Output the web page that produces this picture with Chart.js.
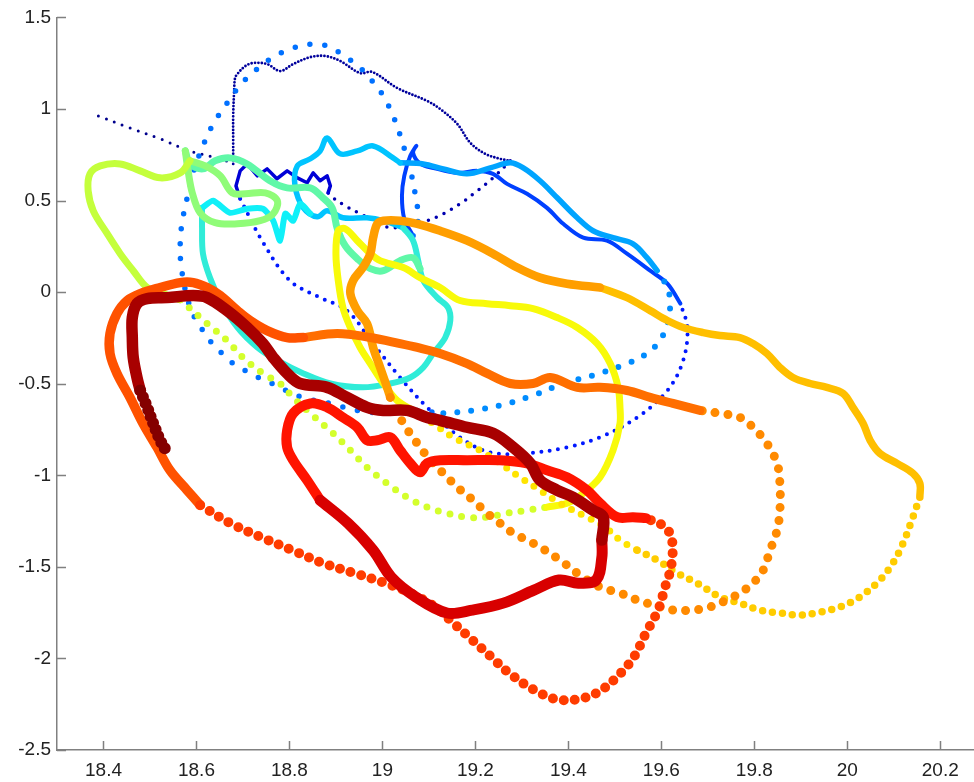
<!DOCTYPE html>
<html>
<head>
<meta charset="utf-8">
<script src="https://cdn.jsdelivr.net/npm/chart.js@4.4.1/dist/chart.umd.min.js"></script>
<style>
  html, body { margin: 0; background: #fff; }
  #wrap { width: 974px; height: 782px; }
</style>
</head>
<body>
<div id="wrap"><canvas id="loops" width="974" height="782"></canvas></div>
<script>
// axis ticks
const xTicks = [18.4, 18.6, 18.8, 19, 19.2, 19.4, 19.6, 19.8, 20, 20.2];
const xTickLabels = ['18.4', '18.6', '18.8', '19', '19.2', '19.4', '19.6', '19.8', '20', '20.2'];
const yTicks = [-2.5, -2, -1.5, -1, -0.5, 0, 0.5, 1, 1.5];
const yTickLabels = ['-2.5', '-2', '-1.5', '-1', '-0.5', '0', '0.5', '1', '1.5'];

// trajectory, in time order as [x, y]
const navyLead = [[18.389,0.962],[18.457,0.896],[18.522,0.837],[18.586,0.771],[18.651,0.728],[18.679,0.700]];
const navyTop = [[18.679,0.700],[18.679,0.826],[18.679,0.962],[18.681,1.098],[18.683,1.169],[18.688,1.191],[18.705,1.234],[18.722,1.251],[18.752,1.245],[18.780,1.207],[18.808,1.245],[18.845,1.283],[18.877,1.289],[18.909,1.262],[18.952,1.196],[18.978,1.202],[19.032,1.114],[19.096,1.044],[19.124,1.000],[19.161,0.918],[19.189,0.815],[19.221,0.755],[19.253,0.728],[19.275,0.717]];
const navyReturn = [[19.275,0.717],[19.238,0.624],[19.204,0.553],[19.167,0.482],[19.131,0.428],[19.096,0.390],[19.060,0.368],[19.017,0.351],[18.984,0.390],[18.952,0.428],[18.920,0.471],[18.894,0.515],[18.883,0.542]];
const blueScribble = [[18.883,0.542],[18.888,0.580],[18.881,0.635],[18.866,0.608],[18.851,0.651],[18.838,0.597],[18.817,0.624],[18.795,0.662],[18.773,0.619],[18.752,0.673],[18.731,0.635],[18.709,0.700],[18.694,0.662],[18.685,0.580],[18.694,0.510]];
const blueDots = [[18.694,0.510],[18.741,0.281],[18.801,0.063],[18.866,-0.030],[18.924,-0.101],[18.980,-0.281],[19.038,-0.466],[19.096,-0.629],[19.167,-0.793],[19.232,-0.875],[19.311,-0.880],[19.397,-0.847],[19.468,-0.793],[19.548,-0.684],[19.613,-0.537],[19.647,-0.373],[19.656,-0.193],[19.641,-0.063]];
const blueLine = [[19.641,-0.063],[19.613,0.046],[19.576,0.117],[19.526,0.210],[19.483,0.281],[19.432,0.297],[19.389,0.373],[19.354,0.460],[19.311,0.537],[19.268,0.591],[19.238,0.646],[19.204,0.662],[19.161,0.651],[19.110,0.678],[19.082,0.700],[19.066,0.760],[19.073,0.798],[19.060,0.744],[19.047,0.635],[19.042,0.526],[19.047,0.401],[19.066,0.308]];
const dodgerDots = [[19.066,0.308],[19.077,0.401],[19.070,0.542],[19.064,0.624],[19.042,0.826],[19.023,0.962],[19.002,1.071],[18.978,1.153],[18.948,1.234],[18.915,1.294],[18.883,1.343],[18.845,1.354],[18.806,1.332],[18.769,1.289],[18.733,1.223],[18.698,1.142],[18.666,1.033],[18.636,0.918],[18.612,0.787],[18.593,0.651],[18.580,0.515],[18.569,0.379],[18.565,0.264],[18.567,0.144],[18.580,-0.030],[18.597,-0.144],[18.614,-0.210],[18.634,-0.281],[18.655,-0.335],[18.679,-0.390],[18.705,-0.428],[18.733,-0.466],[18.763,-0.499],[18.827,-0.575],[18.888,-0.608],[18.946,-0.646],[19.010,-0.662],[19.066,-0.646],[19.131,-0.662]];
const skyDots = [[19.131,-0.662],[19.195,-0.646],[19.253,-0.619],[19.324,-0.564],[19.389,-0.499],[19.453,-0.455],[19.526,-0.390],[19.569,-0.335],[19.597,-0.264],[19.613,-0.172],[19.619,-0.063],[19.613,0.025],[19.591,0.117]];
const skyLine = [[19.591,0.117],[19.569,0.188],[19.539,0.264],[19.496,0.297],[19.453,0.335],[19.419,0.406],[19.376,0.515],[19.339,0.608],[19.303,0.678],[19.275,0.706],[19.232,0.678],[19.182,0.646],[19.131,0.673],[19.088,0.700],[19.038,0.706]];
const cyanTop = [[19.038,0.706],[19.023,0.733],[18.980,0.798],[18.946,0.771],[18.909,0.755],[18.881,0.842],[18.866,0.771],[18.845,0.728],[18.817,0.689],[18.812,0.580],[18.830,0.460],[18.860,0.411],[18.881,0.444],[18.915,0.406],[18.967,0.406],[19.002,0.390],[19.045,0.351]];
const turquoiseLoop = [[19.045,0.351],[19.066,0.281],[19.077,0.172],[19.088,0.063],[19.118,-0.030],[19.141,-0.084],[19.146,-0.155],[19.135,-0.248],[19.109,-0.335],[19.088,-0.411],[19.060,-0.466],[19.017,-0.499],[18.958,-0.520],[18.888,-0.499],[18.830,-0.444],[18.774,-0.373],[18.731,-0.302],[18.688,-0.193],[18.651,-0.046],[18.629,0.079],[18.614,0.210],[18.612,0.351],[18.612,0.460]];
const cyanZigzag = [[18.612,0.460],[18.636,0.499],[18.672,0.433],[18.709,0.455],[18.743,0.455],[18.765,0.390],[18.780,0.281],[18.791,0.428],[18.808,0.390],[18.823,0.482],[18.845,0.428]];
const aquaLine = [[19.081,0.128],[19.066,0.188],[19.038,0.172],[19.002,0.117],[18.974,0.128],[18.946,0.182],[18.920,0.253],[18.903,0.346],[18.892,0.460],[18.872,0.515],[18.845,0.569],[18.795,0.569],[18.758,0.608],[18.709,0.700],[18.672,0.733],[18.640,0.717],[18.614,0.673],[18.586,0.700],[18.576,0.771]];
const greenLoop = [[18.576,0.771],[18.582,0.662],[18.591,0.542],[18.608,0.433],[18.640,0.379],[18.688,0.373],[18.737,0.390],[18.765,0.428],[18.774,0.499],[18.748,0.542],[18.705,0.537],[18.677,0.542],[18.651,0.635],[18.619,0.689],[18.586,0.717]];
const limeLoop = [[18.586,0.717],[18.565,0.651],[18.522,0.624],[18.479,0.662],[18.436,0.700],[18.393,0.689],[18.371,0.646],[18.367,0.553],[18.378,0.444],[18.408,0.319],[18.436,0.210],[18.464,0.117],[18.494,0.025],[18.528,-0.008],[18.565,-0.041]];
const limeDots = [[18.565,-0.041],[18.623,-0.172],[18.666,-0.264],[18.700,-0.357],[18.743,-0.444],[18.780,-0.499],[18.808,-0.575],[18.845,-0.662],[18.894,-0.771],[18.931,-0.864],[18.967,-0.957],[19.010,-1.044],[19.053,-1.120],[19.096,-1.174],[19.139,-1.207],[19.182,-1.229],[19.225,-1.229],[19.268,-1.207],[19.311,-1.191],[19.354,-1.174]];
const yellowLoop = [[19.354,-1.174],[19.397,-1.153],[19.432,-1.098],[19.468,-1.011],[19.496,-0.864],[19.511,-0.717],[19.511,-0.629],[19.507,-0.520],[19.490,-0.390],[19.462,-0.281],[19.419,-0.193],[19.376,-0.139],[19.324,-0.090],[19.275,-0.074],[19.225,-0.063],[19.167,-0.046],[19.124,0.025],[19.081,0.079],[19.045,0.134],[18.995,0.172],[18.974,0.210],[18.946,0.281],[18.920,0.346],[18.905,0.335],[18.900,0.210],[18.905,0.063],[18.915,-0.084],[18.931,-0.193],[18.952,-0.302],[18.974,-0.390],[19.002,-0.499],[19.032,-0.592],[19.066,-0.646]];
const yellowDots = [[19.066,-0.646],[19.109,-0.717],[19.152,-0.793],[19.210,-0.864],[19.253,-0.935],[19.296,-1.011],[19.339,-1.082],[19.382,-1.153],[19.440,-1.229],[19.479,-1.283],[19.511,-1.354],[19.548,-1.409]];
const goldDots = [[19.548,-1.409],[19.591,-1.463],[19.634,-1.534],[19.677,-1.589],[19.726,-1.665],[19.769,-1.698],[19.812,-1.736],[19.855,-1.752],[19.898,-1.763],[19.941,-1.747],[19.984,-1.719],[20.027,-1.665],[20.070,-1.572],[20.098,-1.480],[20.120,-1.371],[20.141,-1.229],[20.156,-1.120]];
const goldLine = [[20.156,-1.120],[20.156,-1.044],[20.141,-0.989],[20.107,-0.935],[20.070,-0.880],[20.049,-0.809],[20.034,-0.717],[20.012,-0.629],[19.991,-0.553],[19.956,-0.520],[19.920,-0.499],[19.883,-0.466],[19.855,-0.411],[19.827,-0.335],[19.797,-0.281],[19.769,-0.248],[19.726,-0.237],[19.690,-0.221],[19.647,-0.193],[19.613,-0.155],[19.576,-0.101],[19.526,-0.030],[19.468,0.025]];
const orangeLine = [[19.468,0.025],[19.397,0.046],[19.339,0.079],[19.290,0.134],[19.238,0.210],[19.182,0.281],[19.124,0.335],[19.075,0.373],[19.038,0.390],[19.002,0.390],[18.989,0.373],[18.980,0.297],[18.974,0.210],[18.958,0.134],[18.937,0.063],[18.931,-0.008],[18.946,-0.101],[18.967,-0.172],[18.980,-0.302],[18.995,-0.411],[19.010,-0.520],[19.017,-0.575]];
const orangeDots = [[19.017,-0.575],[19.045,-0.717],[19.075,-0.826],[19.103,-0.918],[19.131,-0.989],[19.161,-1.065],[19.195,-1.136],[19.225,-1.207],[19.253,-1.262],[19.281,-1.316],[19.311,-1.354],[19.339,-1.392],[19.382,-1.463],[19.425,-1.545],[19.468,-1.610],[19.511,-1.643],[19.548,-1.681],[19.582,-1.708],[19.625,-1.736],[19.668,-1.736],[19.705,-1.719],[19.741,-1.681],[19.769,-1.643],[19.797,-1.589],[19.819,-1.518],[19.834,-1.409],[19.849,-1.300],[19.855,-1.191],[19.855,-1.044],[19.849,-0.935],[19.827,-0.826],[19.797,-0.738],[19.769,-0.684],[19.726,-0.662],[19.683,-0.646]];
const emberLine = [[19.683,-0.646],[19.625,-0.608],[19.576,-0.575],[19.526,-0.537],[19.468,-0.520],[19.419,-0.520],[19.361,-0.466],[19.324,-0.499],[19.275,-0.499],[19.225,-0.444],[19.182,-0.390],[19.124,-0.335],[19.075,-0.302],[19.038,-0.281],[18.974,-0.248],[18.903,-0.226],[18.830,-0.248]];
const emberCurl = [[18.830,-0.248],[18.795,-0.248],[18.752,-0.210],[18.715,-0.155],[18.688,-0.101],[18.651,-0.019],[18.623,0.025],[18.593,0.052],[18.565,0.052],[18.522,0.025],[18.479,-0.008],[18.451,-0.046],[18.429,-0.117],[18.414,-0.226],[18.414,-0.335],[18.429,-0.444],[18.457,-0.575],[18.485,-0.717],[18.515,-0.847],[18.543,-0.973],[18.580,-1.082],[18.608,-1.163]];
const emberDots = [[18.608,-1.163],[18.673,-1.262],[18.739,-1.338],[18.806,-1.409],[18.872,-1.480],[18.939,-1.534],[19.006,-1.589],[19.060,-1.643],[19.113,-1.719],[19.152,-1.806],[19.193,-1.899],[19.234,-1.992],[19.272,-2.079],[19.326,-2.172],[19.380,-2.226],[19.434,-2.215],[19.472,-2.172],[19.513,-2.079],[19.541,-1.992],[19.567,-1.861],[19.593,-1.736],[19.608,-1.610],[19.621,-1.501],[19.623,-1.354],[19.608,-1.283],[19.567,-1.234]];
const redLine = [[19.567,-1.234],[19.539,-1.229],[19.505,-1.229],[19.468,-1.153],[19.440,-1.082],[19.397,-1.011],[19.354,-0.973],[19.311,-0.935],[19.253,-0.918],[19.182,-0.918],[19.124,-0.918],[19.096,-0.935],[19.081,-0.984],[19.060,-0.935],[19.038,-0.864],[19.017,-0.793],[18.989,-0.809],[18.967,-0.809],[18.946,-0.738],[18.915,-0.684],[18.881,-0.629],[18.845,-0.608],[18.808,-0.662],[18.795,-0.755],[18.795,-0.847],[18.808,-0.918],[18.838,-1.027],[18.866,-1.136]];
const crimsonLine = [[18.866,-1.136],[18.926,-1.262],[18.980,-1.409],[19.019,-1.556],[19.072,-1.665],[19.139,-1.752],[19.193,-1.736],[19.260,-1.698],[19.326,-1.627],[19.380,-1.572],[19.421,-1.589],[19.460,-1.572],[19.472,-1.447],[19.472,-1.354]];
const darkRedLine = [[19.472,-1.354],[19.475,-1.229],[19.453,-1.191],[19.410,-1.120],[19.376,-1.082],[19.339,-1.027],[19.318,-0.935],[19.281,-0.847],[19.238,-0.771],[19.182,-0.738],[19.124,-0.700],[19.096,-0.684],[19.053,-0.646],[19.002,-0.646],[18.967,-0.629],[18.924,-0.575],[18.881,-0.520],[18.823,-0.499],[18.795,-0.444],[18.765,-0.357],[18.743,-0.281],[18.709,-0.193],[18.666,-0.101],[18.623,-0.030],[18.593,-0.019],[18.537,-0.030],[18.494,-0.035],[18.472,-0.063],[18.462,-0.139],[18.462,-0.248],[18.464,-0.357],[18.472,-0.466],[18.479,-0.537]];
const maroonDots = [[18.479,-0.537],[18.494,-0.629],[18.507,-0.717],[18.522,-0.809],[18.537,-0.875]];

// how each piece is drawn: gap = spacing of round dots along the path
const traces = [
  { pts: navyLead, color: '#00008c', width: 3, gap: 8.5 },
  { pts: navyTop, color: '#00009c', width: 2.8, gap: 3.4 },
  { pts: navyReturn, color: '#0000b0', width: 3.5, gap: 8.5 },
  { pts: blueScribble, color: '#0000d6', width: 3.5, tension: 0 },
  { pts: blueDots, color: '#0018ff', width: 4, gap: 8.5 },
  { pts: blueLine, color: '#0040ff', width: 4 },
  { pts: dodgerDots, color: '#0070ff', width: 5.5, gap: 15 },
  { pts: skyDots, color: '#008cff', width: 6, gap: 14 },
  { pts: skyLine, color: '#00a4ff', width: 5.5 },
  { pts: cyanTop, color: '#00c4ff', width: 5.5 },
  { pts: turquoiseLoop, color: '#30ecd8', width: 6 },
  { pts: cyanZigzag, color: '#10f0f8', width: 6, tension: 0.2 },
  { pts: aquaLine, color: '#60f8a8', width: 7 },
  { pts: greenLoop, color: '#90fc78', width: 7 },
  { pts: limeLoop, color: '#c4ff3c', width: 7 },
  { pts: limeDots, color: '#d4ff2c', width: 7, gap: 12 },
  { pts: yellowLoop, color: '#f8fa0a', width: 7 },
  { pts: yellowDots, color: '#ffe400', width: 7, gap: 11 },
  { pts: goldDots, color: '#ffcc00', width: 7.5, gap: 10 },
  { pts: goldLine, color: '#ffbf00', width: 7.5 },
  { pts: orangeLine, color: '#ff9e00', width: 8.5 },
  { pts: orangeDots, color: '#ff8a00', width: 9, gap: 13 },
  { pts: emberLine, color: '#ff6e00', width: 9 },
  { pts: emberCurl, color: '#ff5200', width: 9.5 },
  { pts: emberDots, color: '#ff3c00', width: 10, gap: 11 },
  { pts: redLine, color: '#ff1400', width: 10 },
  { pts: crimsonLine, color: '#d80000', width: 11 },
  { pts: darkRedLine, color: '#a80000', width: 11.5 },
  { pts: maroonDots, color: '#840000', width: 12, gap: 7 }
];

const axisGray = '#808080';

// matlab style ticks, pointing into the plot
const innerTicks = {
  id: 'innerTicks',
  afterDraw(chart) {
    const { ctx, chartArea, scales: { x, y } } = chart;
    ctx.save();
    ctx.strokeStyle = axisGray;
    ctx.lineWidth = 1.5;
    ctx.beginPath();
    x.ticks.forEach(t => {
      const px = Math.round(x.getPixelForValue(t.value)) + 0.5;
      ctx.moveTo(px, chartArea.bottom);
      ctx.lineTo(px, chartArea.bottom - 9);
    });
    y.ticks.forEach(t => {
      const py = Math.round(y.getPixelForValue(t.value)) + 0.5;
      ctx.moveTo(chartArea.left, py);
      ctx.lineTo(chartArea.left + 9, py);
    });
    ctx.stroke();
    ctx.restore();
  }
};

const tickFont = { family: "'Liberation Sans', Arial, sans-serif", size: 19 };

new Chart(document.getElementById('loops'), {
  type: 'scatter',
  data: {
    datasets: traces.map((t, i) => ({
      data: t.pts.map(([x, y]) => ({ x, y })),
      showLine: true,
      borderColor: t.color,
      borderWidth: t.width,
      borderDash: t.gap ? [0, t.gap] : [],
      borderCapStyle: 'round',
      borderJoinStyle: 'round',
      tension: t.tension ?? 0.35,
      pointRadius: 0,
      pointHoverRadius: 0,
      fill: false,
      order: -i
    }))
  },
  options: {
    responsive: false,
    animation: false,
    events: [],
    layout: { padding: { top: 16, right: 0, bottom: 0, left: 0 } },
    plugins: { legend: { display: false }, tooltip: { enabled: false } },
    scales: {
      x: {
        type: 'linear',
        min: 18.3,
        max: 20.2725,
        afterBuildTicks: s => { s.ticks = xTicks.map(v => ({ value: v })); },
        afterFit: s => { s.height = 32; },
        ticks: {
          callback: (v, i) => xTickLabels[i],
          color: '#222',
          font: tickFont,
          padding: 9,
          maxRotation: 0,
          autoSkip: false
        },
        grid: { drawOnChartArea: false, drawTicks: false },
        border: { display: true, color: axisGray, width: 1.5 }
      },
      y: {
        type: 'linear',
        min: -2.5,
        max: 1.5,
        afterBuildTicks: s => { s.ticks = yTicks.map(v => ({ value: v })); },
        afterFit: s => { s.width = 57; },
        ticks: {
          callback: (v, i) => yTickLabels[i],
          color: '#222',
          font: tickFont,
          padding: 6,
          autoSkip: false
        },
        grid: { drawOnChartArea: false, drawTicks: false },
        border: { display: true, color: axisGray, width: 1.5 }
      }
    }
  },
  plugins: [innerTicks]
});
</script>
</body>
</html>
